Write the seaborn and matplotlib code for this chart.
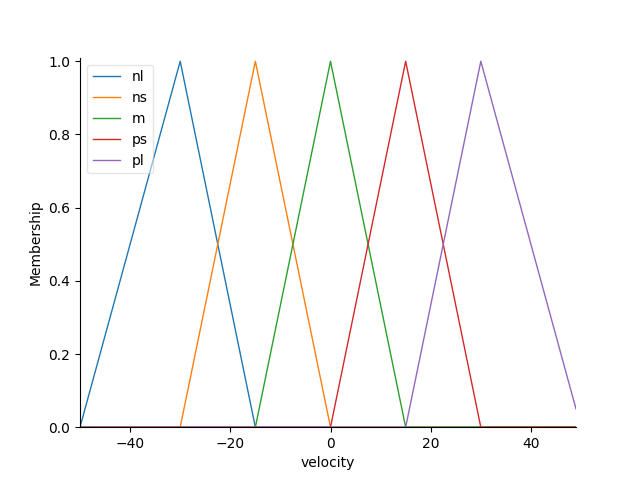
import numpy as np
import pandas as pd
import seaborn as sns
import matplotlib
matplotlib.use("Agg")
import matplotlib.pyplot as plt

# triangle vertices for each velocity term (universe -50..49)
terms = ["nl", "ns", "m", "ps", "pl"]
nl_x = [-50, -30, -15, 49]
nl_y = [0, 1, 0, 0]
ns_x = [-50, -30, -15, 0, 49]
ns_y = [0, 0, 1, 0, 0]
m_x = [-50, -15, 0, 15, 49]
m_y = [0, 0, 1, 0, 0]
ps_x = [-50, 0, 15, 30, 49]
ps_y = [0, 0, 1, 0, 0]
pl_x = [-50, 15, 30, 49]
pl_y = [0, 0, 1, 0.05]

series = {"nl": (nl_x, nl_y), "ns": (ns_x, ns_y), "m": (m_x, m_y),
          "ps": (ps_x, ps_y), "pl": (pl_x, pl_y)}

fig, ax = plt.subplots(figsize=(6.4, 4.8), dpi=100)
colors = plt.rcParams["axes.prop_cycle"].by_key()["color"]
for i, t in enumerate(terms):
    x, y = series[t]
    df = pd.DataFrame({"x": x, "y": y})
    sns.lineplot(data=df, x="x", y="y", ax=ax, color=colors[i], label=t,
                 sort=False, estimator=None, linewidth=1)

ax.set_xlim(-50, 49)
ax.set_ylim(0, 1.01)
ax.set_xlabel("velocity")
ax.set_ylabel("Membership")
ax.spines["top"].set_visible(False)
ax.spines["right"].set_visible(False)
ax.legend(loc="upper left", framealpha=0.5)

fig.savefig("out.png", dpi=100)
